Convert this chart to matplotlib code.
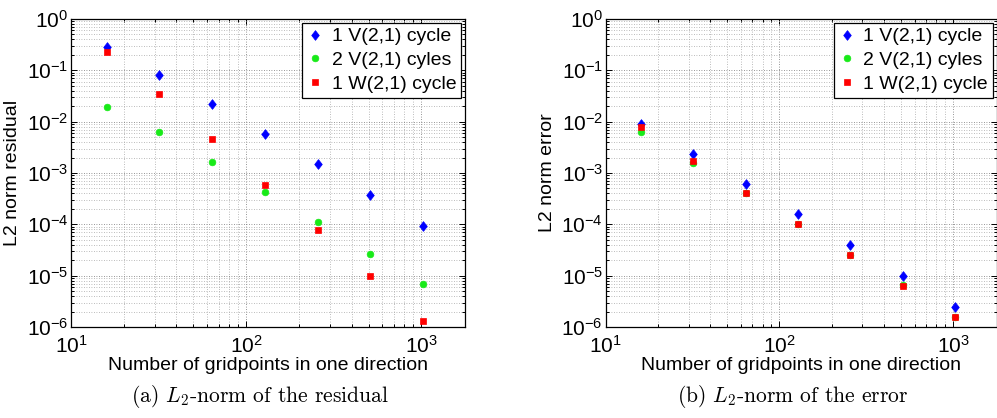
import numpy as np
import matplotlib
matplotlib.use("Agg")
import matplotlib.pyplot as plt
from matplotlib.ticker import LogLocator, NullFormatter, LogFormatterSciNotation

plt.rcParams["font.family"] = ["Liberation Sans", "DejaVu Sans"]
plt.rcParams["mathtext.fontset"] = "custom"
plt.rcParams["mathtext.rm"] = "Liberation Sans"
plt.rcParams["mathtext.it"] = "Liberation Sans:italic"
plt.rcParams["mathtext.bf"] = "Liberation Sans:bold"

# Grid sizes (points per direction)
gridpoints = [16, 32, 64, 128, 256, 512, 1024]

# L2-norm of the residual
res_v1 = [2.9e-1, 8.0e-2, 2.17e-2, 5.7e-3, 1.49e-3, 3.7e-4, 9.3e-5]
res_v2 = [1.92e-2, 6.2e-3, 1.67e-3, 4.3e-4, 1.1e-4, 2.7e-5, 6.8e-6]
res_w1 = [2.24e-1, 3.44e-2, 4.5e-3, 5.96e-4, 7.7e-5, 1.0e-5, 1.3e-6]

# L2-norm of the error
err_v1 = [8.9e-3, 2.33e-3, 6.1e-4, 1.6e-4, 3.98e-5, 1.0e-5, 2.5e-6]
err_v2 = [6.25e-3, 1.6e-3, 4.1e-4, 1.03e-4, 2.57e-5, 6.5e-6, 1.6e-6]
err_w1 = [7.8e-3, 1.75e-3, 4.1e-4, 1.0e-4, 2.5e-5, 6.2e-6, 1.56e-6]

series_labels = ["1 V(2,1) cycle", "2 V(2,1) cyles", "1 W(2,1) cycle"]
y_labels = ["L2 norm residual", "L2 norm error"]
x_label = "Number of gridpoints in one direction"
captions = ["(a) $L_2$-norm of the residual", "(b) $L_2$-norm of the error"]

diamond = [(0, 1), (0.78, 0), (0, -1), (-0.78, 0), (0, 1)]
styles = [
    dict(marker=diamond, color="#0000ff", ms=7.0),
    dict(marker="o", color="#18ea18", ms=4.8),
    dict(marker="s", color="#ff0000", ms=4.4),
]

W, H = 997, 418
fig = plt.figure(figsize=(W / 100, H / 100), dpi=100)
ax1 = fig.add_axes([71 / W, 1 - 327 / H, 394 / W, 308 / H])
ax2 = fig.add_axes([605.7 / W, 1 - 327 / H, 390.8 / W, 308 / H])

panels = [
    (ax1, [res_v1, res_v2, res_w1], y_labels[0], captions[0], 259.5),
    (ax2, [err_v1, err_v2, err_w1], y_labels[1], captions[1], 793.0),
]

for ax, data, ylab, cap, cx in panels:
    for vals, lab, st in zip(data, series_labels, styles):
        ax.plot(gridpoints, vals, linestyle="none", marker=st["marker"],
                ms=st["ms"], color=st["color"], mfc=st["color"],
                mec=st["color"], mew=0.5, label=lab)
    ax.set_xscale("log")
    ax.set_yscale("log")
    ax.set_xlim(10, 10 ** 3.25)
    ax.set_ylim(1e-6, 1)

    ax.xaxis.set_major_locator(LogLocator(base=10, numticks=20))
    ax.yaxis.set_major_locator(LogLocator(base=10, numticks=20))
    ax.xaxis.set_minor_locator(LogLocator(base=10, subs=np.arange(2, 10), numticks=100))
    ax.yaxis.set_minor_locator(LogLocator(base=10, subs=np.arange(2, 10), numticks=100))
    ax.xaxis.set_major_formatter(LogFormatterSciNotation())
    ax.yaxis.set_major_formatter(LogFormatterSciNotation())
    ax.xaxis.set_minor_formatter(NullFormatter())
    ax.yaxis.set_minor_formatter(NullFormatter())

    ax.grid(True, which="major", linestyle=(0, (1, 2)), color="0.45", lw=0.6)
    ax.grid(True, which="minor", linestyle=(0, (1, 2)), color="0.65", lw=0.6)
    ax.set_axisbelow(True)

    ax.tick_params(which="both", direction="in", top=True, right=True,
                   labelsize=15, width=0.7, color="black")
    ax.tick_params(axis="y", which="major", length=4, pad=2)
    ax.tick_params(axis="x", which="major", length=4, pad=6)
    ax.tick_params(which="minor", length=2)
    for sp in ax.spines.values():
        sp.set_linewidth(0.9)
        sp.set_color("black")

    ax.set_ylabel(ylab, fontsize=14, labelpad=4)
    ax.set_xlabel(x_label, fontsize=14, labelpad=0)

    leg = ax.legend(loc="upper right", fontsize=14, numpoints=1,
                    handlelength=0.8, handletextpad=0.45, labelspacing=0.32,
                    borderpad=0.25, borderaxespad=0.2, fancybox=False,
                    framealpha=1, edgecolor="black")
    leg.get_frame().set_linewidth(0.9)

    fig.text(cx / W, 1 - 396 / H, cap, ha="center", va="center",
             fontsize=15.5, family="cmr10", math_fontfamily="cm")

fig.savefig("out.png", dpi=100)
